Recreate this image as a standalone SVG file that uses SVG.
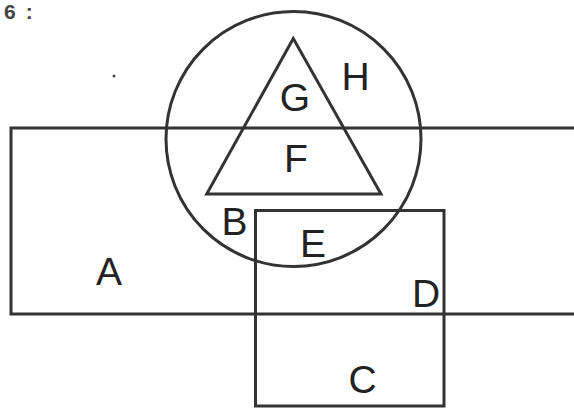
<svg xmlns="http://www.w3.org/2000/svg" width="574" height="408" viewBox="0 0 574 408">
<style>
.s{fill:none;stroke:#333;stroke-width:3}
.t{font-family:"Liberation Sans",Arial,sans-serif;font-size:39px;fill:#222;text-anchor:middle}
</style>
<rect width="574" height="408" fill="#fff"/>
<text x="4" y="19" style="font-family:'Liberation Sans',Arial,sans-serif;font-size:21px;font-weight:bold;fill:#444">6<tspan dx="10">:</tspan></text>
<circle cx="114" cy="76" r="1.5" fill="#444"/>
<g id="A"><rect class="s" x="11" y="128" width="570" height="186"/><text class="t" x="109" y="285">A</text></g>
<g id="C"><rect class="s" x="255.5" y="210.5" width="188.5" height="195.5"/><text class="t" x="362.5" y="393">C</text></g>
<g id="H"><circle class="s" cx="293.5" cy="139" r="127.5"/><text class="t" x="355.5" y="90">H</text></g>
<g id="G"><polygon class="s" points="293.3,38.5 206.7,194 381,194"/><text class="t" x="295" y="110.5">G</text></g>
<g id="F"><text class="t" x="296" y="171.5">F</text></g>
<g id="B"><text class="t" x="234.5" y="235">B</text></g>
<g id="E"><text class="t" x="313" y="256.5">E</text></g>
<g id="D"><text class="t" x="426" y="306.5">D</text></g>
<g id="connectors"></g>
</svg>
